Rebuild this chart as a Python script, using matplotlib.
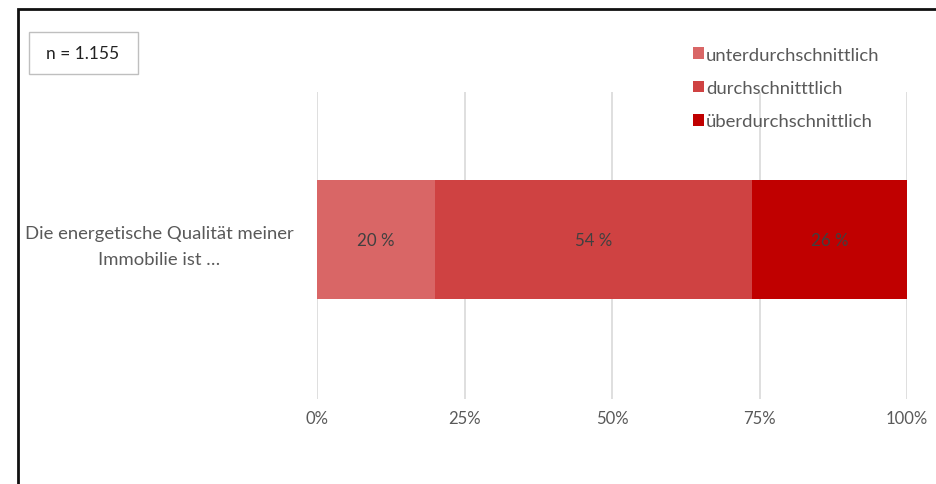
import matplotlib.pyplot as plt
from matplotlib.patches import Rectangle, Patch

plt.rcParams['font.family'] = ['Lato', 'DejaVu Sans']

# Data
question = "Die energetische Qualität meiner\nImmobilie ist …"
categories = ["unterdurchschnittlich", "durchschnitttlich", "überdurchschnittlich"]
shares = [20.0, 53.7, 26.3]
colors = ["#d96666", "#cf4242", "#c00000"]
ticks = [0, 25, 50, 75, 100]
tick_labels = ["0%", "25%", "50%", "75%", "100%"]
n_text = "n = 1.155"

text_gray = "#595959"

fig = plt.figure(figsize=(9.36, 4.85), dpi=100)
ax = fig.add_axes([317 / 936, 1 - 400 / 485, 590 / 936, 307 / 485])

left = 0
for cat, val, col in zip(categories, shares, colors):
    ax.barh(0, val, left=left, height=0.3876, color=col, label=cat, zorder=2)
    ax.text(left + val / 2, 0, f"{val:.0f} %", ha="center", va="center",
            fontsize=12.2, color="#404040", zorder=3)
    left += val

ax.set_xlim(0, 100)
ax.set_ylim(-0.5195, 0.4805)
ax.set_xticks(ticks)
ax.set_xticklabels(tick_labels, fontsize=12, color=text_gray)
ax.set_yticks([0])
ax.set_yticklabels([question], fontsize=13.3, color=text_gray,
                   multialignment="center", linespacing=1.8)
ax.tick_params(axis="both", length=0)
ax.tick_params(axis="x", pad=8)
ax.tick_params(axis="y", pad=17)
ax.grid(axis="x", color="#d9d9d9", linewidth=1.2, zorder=1)
for s in ax.spines.values():
    s.set_visible(False)

# outer frame
fig.patches.append(Rectangle((18 / 936, -0.1), 1.0, 1.1 - 10 / 485,
                             transform=fig.transFigure, fill=False,
                             edgecolor="#111111", linewidth=2))

# n box
fig.patches.append(Rectangle((29 / 936, 1 - 75 / 485), 109 / 936, 42 / 485,
                             transform=fig.transFigure, facecolor="white",
                             edgecolor="#bfbfbf", linewidth=1))
fig.text(83 / 936, 1 - 54 / 485, n_text, ha="center", va="center",
         fontsize=12.5, color="#222222")

handles = [Patch(facecolor=c, edgecolor="none") for c in colors]
fig.legend(handles, categories, loc="upper left",
           bbox_to_anchor=(676 / 936, 1 - 31 / 485), frameon=False,
           fontsize=13.3, labelcolor=text_gray, handlelength=0.6,
           handleheight=0.6, handletextpad=0.12, labelspacing=0.94)

fig.savefig("out.png", dpi=100)
